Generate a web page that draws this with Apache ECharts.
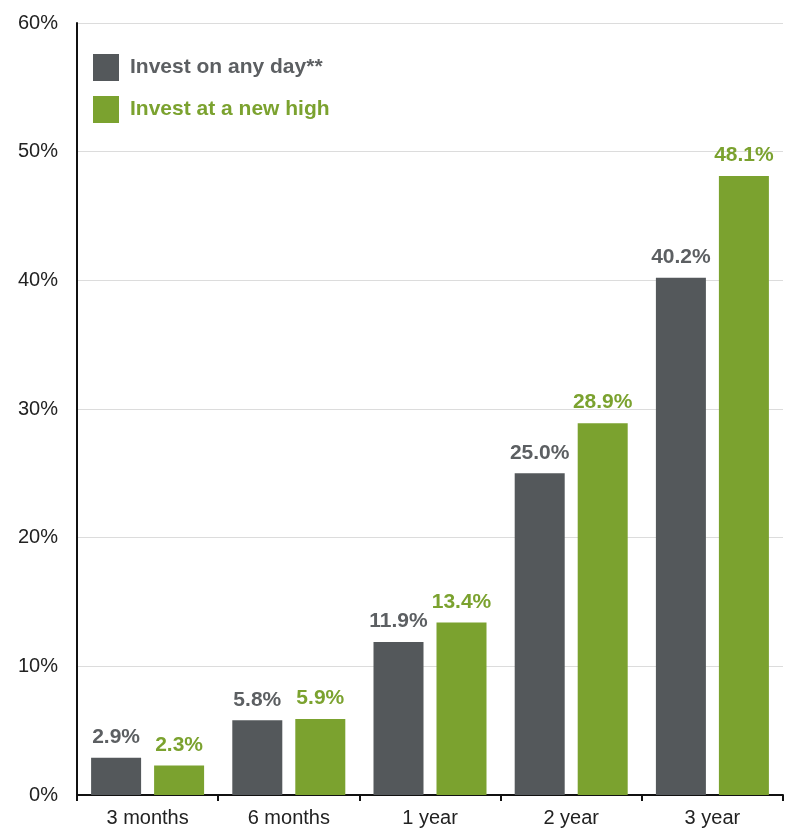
<!DOCTYPE html>
<html><head><meta charset="utf-8">
<script src="https://cdn.jsdelivr.net/npm/echarts@6/dist/echarts.min.js"></script>
<style>html,body{margin:0;padding:0;background:#fff}#c{width:791px;height:828px}</style>
</head><body><div id="c"></div>
<script>
const categories = ["3 months", "6 months", "1 year", "2 year", "3 year"];
const anyDay = [2.9, 5.8, 11.9, 25.0, 40.2];
const newHigh = [2.3, 5.9, 13.4, 28.9, 48.1];
const seriesNames = ["Invest on any day**", "Invest at a new high"];
const yTicks = [0, 10, 20, 30, 40, 50, 60];

const GRAY = "#54585b", GREEN = "#7ba22f";
const FONT = "Liberation Sans, Arial, sans-serif";
const chart = echarts.init(document.getElementById("c"));
chart.setOption({
  animation: false,
  textStyle: { fontFamily: FONT },
  grid: { left: 77, right: 8, top: 23, bottom: 33, containLabel: false },
  legend: {
    orient: "vertical", left: 93, top: 54, padding: 0, itemWidth: 26, itemHeight: 27, itemGap: 15,
    icon: "rect",
    data: [
      { name: seriesNames[0], textStyle: { color: "#5c5f62" } },
      { name: seriesNames[1], textStyle: { color: GREEN } }
    ],
    textStyle: { fontSize: 21, fontWeight: "bold", fontFamily: FONT, padding: [0, 0, 0, 6] }
  },
  xAxis: {
    type: "category", data: categories,
    axisLine: { lineStyle: { color: "#111", width: 2 } },
    axisTick: { show: true, length: 6, lineStyle: { color: "#111", width: 2 } },
    axisLabel: { color: "#222", fontSize: 20, margin: 13, fontFamily: FONT }
  },
  yAxis: {
    type: "value", min: yTicks[0], max: yTicks[yTicks.length - 1], interval: 10,
    axisLine: { show: true, lineStyle: { color: "#111", width: 2 } },
    axisTick: { show: false },
    splitLine: { lineStyle: { color: "#dcdcdc", width: 1 } },
    axisLabel: { color: "#222", fontSize: 20, margin: 19, formatter: v => v + "%", fontFamily: FONT }
  },
  series: [
    {
      name: seriesNames[0], type: "bar", data: anyDay, barWidth: 50, barGap: "26%",
      itemStyle: { color: GRAY },
      label: { show: true, position: "top", distance: 10, color: "#5c5f62", fontSize: 21, fontWeight: "bold",
        fontFamily: FONT, formatter: p => p.value.toFixed(1) + "%" }
    },
    {
      name: seriesNames[1], type: "bar", data: newHigh, barWidth: 50, barGap: "26%",
      itemStyle: { color: GREEN },
      label: { show: true, position: "top", distance: 10, color: GREEN, fontSize: 21, fontWeight: "bold",
        fontFamily: FONT, formatter: p => p.value.toFixed(1) + "%" }
    }
  ]
});
</script></body></html>
